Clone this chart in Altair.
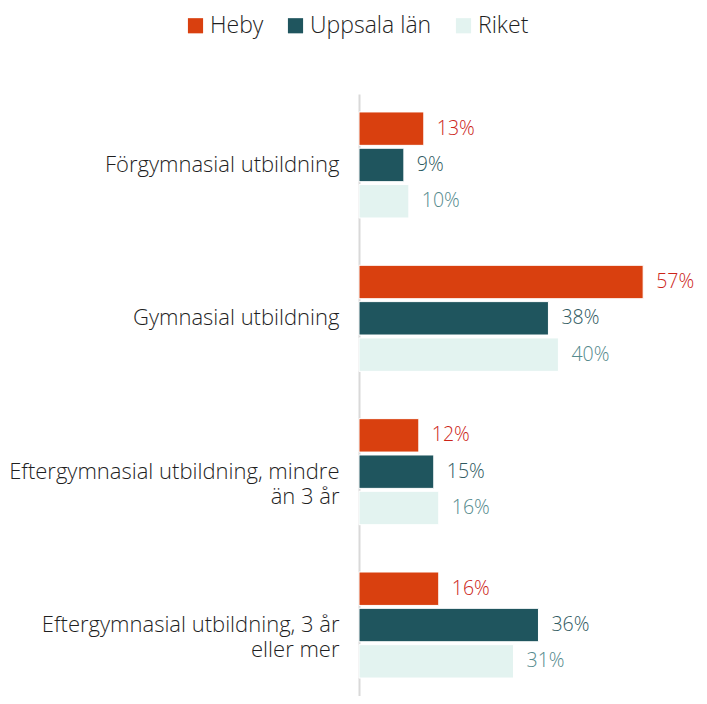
import altair as alt
import pandas as pd

categories = [
    "Förgymnasial utbildning",
    "Gymnasial utbildning",
    "Eftergymnasial utbildning, mindre|än 3 år",
    "Eftergymnasial utbildning, 3 år|eller mer",
]
series = ["Heby", "Uppsala län", "Riket"]
heby = [13, 57, 12, 16]
uppsala = [9, 38, 15, 36]
riket = [10, 40, 16, 31]

bar_colors = ["#d9400f", "#1f555e", "#e3f3f0"]
label_colors = ["#cc2418", "#2f5a61", "#558a8d"]

rows = []
for s, vals in zip(series, [heby, uppsala, riket]):
    for c, v in zip(categories, vals):
        rows.append({"cat": c, "serie": s, "value": v, "label": f"{v}%"})
df = pd.DataFrame(rows)

FONT = "Open Sans"
W = 300

y_enc = alt.Y(
    "cat:N",
    sort=categories,
    title=None,
    scale=alt.Scale(paddingInner=0.3085, paddingOuter=0.117),
    axis=alt.Axis(
        labelExpr="split(datum.label, '|')",
        labelFontSize=22,
        labelFont=FONT,
        labelFontWeight=W,
        labelColor="#1f1f1f",
        labelPadding=20,
        labelLimit=400,
        labelLineHeight=25,
        ticks=False,
        domainColor="#d9d9d9",
        domainWidth=2,
        grid=False,
    ),
)
yoff = alt.YOffset("serie:N", sort=series, scale=alt.Scale(paddingInner=0.08, paddingOuter=0))
x_enc = alt.X("value:Q", scale=alt.Scale(domain=[0, 68]), axis=None)

bars = alt.Chart(df).mark_bar(stroke="white", strokeWidth=1).encode(
    x=x_enc,
    y=y_enc,
    yOffset=yoff,
    color=alt.Color(
        "serie:N",
        sort=series,
        scale=alt.Scale(domain=series, range=bar_colors),
        legend=alt.Legend(
            title=None,
            orient="none",
            direction="horizontal",
            legendX=-175,
            legendY=-80,
            symbolType="square",
            symbolSize=230,
            symbolStrokeWidth=0,
            labelFontSize=23,
            labelFont=FONT,
            labelFontWeight=W,
            labelColor="#1f1f1f",
            labelOffset=3,
            columnPadding=20,
            symbolOffset=0,
        ),
    ),
)

texts = alt.Chart(df).mark_text(
    align="left", baseline="middle", dx=13, fontSize=19.5, font=FONT, fontWeight=W
).encode(
    x=x_enc,
    y=alt.Y("cat:N", sort=categories),
    yOffset=yoff,
    text="label:N",
    color=alt.Color(
        "serie:N",
        sort=series,
        scale=alt.Scale(domain=series, range=label_colors),
        legend=None,
    ),
)

chart = (
    alt.layer(bars, texts)
    .resolve_scale(color="independent")
    .properties(
        width=339,
        height=602,
        autosize=alt.AutoSizeParams(type="none"),
        padding={"left": 351, "top": 86, "right": 0, "bottom": 0},
    )
    .configure_view(stroke=None)
)

chart.save("out.html", embed_options={"renderer": "svg", "actions": False})
